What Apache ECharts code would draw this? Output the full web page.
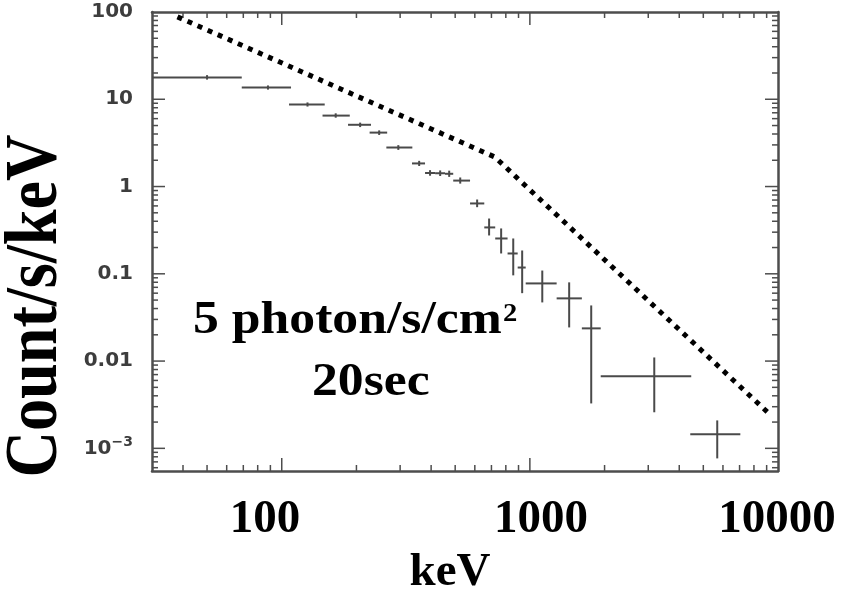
<!DOCTYPE html>
<html><head><meta charset="utf-8">
<script src="https://cdn.jsdelivr.net/npm/echarts@6/dist/echarts.min.js"></script>
<style>html,body{margin:0;padding:0;background:#fff}#c{width:841px;height:592px}</style>
</head><body><div id="c"></div>
<script>
// ---- axis ranges ----
const X_MIN = 30, X_MAX = 10000;
const Y_MIN = 5.5e-4, Y_MAX = 100;

// ---- measured spectrum (energy bins in keV, counts/s/keV) ----
const energyLow  = [30, 69, 107, 146, 185, 226, 264, 335, 378, 415, 455, 491, 574, 655, 725, 813, 893, 962, 1282, 1620, 1930, 4430];
const energyMid  = [50, 88, 127, 165, 207, 247, 295, 358, 396, 435, 473, 524, 613, 685, 766, 857, 931, 1122, 1440, 1767, 3172, 5690];
const energyHigh = [69, 109, 149, 188, 229, 266, 336, 378, 415, 455, 491, 574, 655, 725, 813, 893, 962, 1282, 1620, 1930, 4470, 7050];
const counts     = [17.8, 13.6, 8.7, 6.5, 5.1, 4.15, 2.8, 1.84, 1.43, 1.42, 1.40, 1.17, 0.64, 0.34, 0.254, 0.171, 0.118, 0.0776, 0.0523, 0.0237, 0.00668, 0.00145];
const countLow   = [16.8, 12.9, 8.25, 6.15, 4.8, 3.9, 2.63, 1.72, 1.33, 1.32, 1.29, 1.08, 0.58, 0.275, 0.171, 0.096, 0.060, 0.047, 0.0243, 0.00327, 0.00259, 0.000767];
const countHigh  = [18.9, 14.4, 9.2, 6.9, 5.4, 4.4, 2.98, 1.97, 1.54, 1.53, 1.52, 1.27, 0.71, 0.43, 0.331, 0.254, 0.185, 0.109, 0.0798, 0.0434, 0.011, 0.00209];

// ---- dotted broken power-law line ----
const modelEnergy = [38, 722, 9200];
const modelCounts = [88, 2.18, 0.0025];

// ---- ticks ----
const xMajorTicks = [100, 1000];
const xMinorTicks = [40, 50, 60, 70, 80, 90, 200, 300, 400, 500, 600, 700, 800, 900, 2000, 3000, 4000, 5000, 6000, 7000, 8000, 9000];
const yMajorTicks = [0.001, 0.01, 0.1, 1, 10];
const yMinorTicks = [6e-4, 7e-4, 8e-4, 9e-4, 0.002, 0.003, 0.004, 0.005, 0.006, 0.007, 0.008, 0.009,
  0.02, 0.03, 0.04, 0.05, 0.06, 0.07, 0.08, 0.09, 0.2, 0.3, 0.4, 0.5, 0.6, 0.7, 0.8, 0.9,
  2, 3, 4, 5, 6, 7, 8, 9, 20, 30, 40, 50, 60, 70, 80, 90];
const bigXLabels = ['100', '1000', '10000'];

const AX = '#4d4d4d';
const LBL = '#3d3d3d';
const tickData = [];
xMajorTicks.forEach(v => tickData.push([v, Y_MIN, 0, 1]));
xMinorTicks.forEach(v => tickData.push([v, Y_MIN, 0, 0]));
yMajorTicks.forEach(v => tickData.push([X_MIN, v, 1, 1]));
yMinorTicks.forEach(v => tickData.push([X_MIN, v, 1, 0]));

const errData = energyMid.map((m, i) => [energyLow[i], m, energyHigh[i], counts[i], countLow[i], countHigh[i]]);
const modelData = modelEnergy.map((e, i) => [e, modelCounts[i]]);

function renderTick(params, api) {
  const kind = api.value(2), major = api.value(3);
  const len = major ? 13 : 6;
  const st = { stroke: AX, lineWidth: 1.5 };
  if (kind === 0) {
    const v = api.value(0);
    const b = api.coord([v, Y_MIN]), t = api.coord([v, Y_MAX]);
    return { type: 'group', children: [
      { type: 'line', shape: { x1: b[0], y1: b[1], x2: b[0], y2: b[1] - len }, style: st },
      { type: 'line', shape: { x1: t[0], y1: t[1], x2: t[0], y2: t[1] + len }, style: st }
    ]};
  }
  const v = api.value(1);
  const l = api.coord([X_MIN, v]), r = api.coord([X_MAX, v]);
  return { type: 'group', children: [
    { type: 'line', shape: { x1: l[0], y1: l[1], x2: l[0] + len, y2: l[1] }, style: st },
    { type: 'line', shape: { x1: r[0], y1: r[1], x2: r[0] - len, y2: r[1] }, style: st }
  ]};
}

function renderErr(params, api) {
  const pL = api.coord([api.value(0), api.value(3)]);
  const pH = api.coord([api.value(2), api.value(3)]);
  const pB = api.coord([api.value(1), api.value(4)]);
  const pT = api.coord([api.value(1), api.value(5)]);
  const st = { stroke: '#4a4a4a', lineWidth: 2 };
  return { type: 'group', children: [
    { type: 'line', shape: { x1: pL[0], y1: pL[1], x2: pH[0], y2: pH[1] }, style: st },
    { type: 'line', shape: { x1: pB[0], y1: pB[1], x2: pT[0], y2: pT[1] }, style: st }
  ]};
}

function yLabel(v) {
  const e = Math.round(Math.log10(v));
  if (Math.abs(Math.log10(v) - e) > 1e-6 || e < -3 || e > 2) return '';
  if (e === -3) return '{b|10}{s|\u22123}';
  return String(Math.pow(10, e) >= 1 ? Math.pow(10, e) : Number(Math.pow(10, e).toFixed(-e)));
}

const serifBold = 'bold 47px "Liberation Serif", "Times New Roman", serif';

const chart = echarts.init(document.getElementById('c'), null, { renderer: 'canvas' });
chart.setOption({
  animation: false,
  backgroundColor: '#fff',
  grid: { left: 152, right: 63, top: 12, bottom: 121, containLabel: false, outerBoundsMode: 'none' },
  xAxis: [
    { type: 'log', logBase: 10, min: X_MIN, max: X_MAX, position: 'bottom',
      axisLine: { show: true, lineStyle: { color: AX, width: 2.5 } },
      axisTick: { show: false }, axisLabel: { show: false }, splitLine: { show: false }, minorTick: { show: false } },
    { type: 'log', logBase: 10, min: X_MIN, max: X_MAX, position: 'top',
      axisLine: { show: true, lineStyle: { color: AX, width: 2.5 } },
      axisTick: { show: false }, axisLabel: { show: false }, splitLine: { show: false } }
  ],
  yAxis: [
    { type: 'log', logBase: 10, min: Y_MIN, max: Y_MAX, position: 'left',
      axisLine: { show: true, lineStyle: { color: AX, width: 2.5 } },
      axisTick: { show: false }, splitLine: { show: false },
      axisLabel: { show: true, margin: 19, color: LBL, fontFamily: 'DejaVu Sans', fontWeight: 'bold', fontSize: 20,
        showMinLabel: false, formatter: yLabel,
        rich: {
          b: { fontFamily: 'DejaVu Sans', fontWeight: 'bold', fontSize: 20, color: LBL },
          s: { fontFamily: 'DejaVu Sans', fontWeight: 'bold', fontSize: 14, color: LBL, verticalAlign: 'top', padding: [0, 0, 12, 0] }
        } } },
    { type: 'log', logBase: 10, min: Y_MIN, max: Y_MAX, position: 'right',
      axisLine: { show: true, lineStyle: { color: AX, width: 2.5 } },
      axisTick: { show: false }, axisLabel: { show: false }, splitLine: { show: false } }
  ],
  series: [
    { type: 'custom', name: 'ticks', renderItem: renderTick, data: tickData, clip: false, silent: true,
      encode: { x: 0, y: 1 }, z: 3 },
    { type: 'custom', name: 'spectrum', renderItem: renderErr, data: errData, clip: true,
      encode: { x: 1, y: 3 }, z: 4 },
    { type: 'line', name: 'model', data: modelData, symbol: 'none', z: 5,
      lineStyle: { color: '#000', width: 5, type: [5, 6], cap: 'butt' } }
  ],
  graphic: [
    { type: 'text', x: 37, y: 306, rotation: Math.PI / 2, scaleX: 0.857,
      style: { text: 'Count/s/keV', font: 'bold 75px "Liberation Serif", "Times New Roman", serif', fill: '#000',
        textAlign: 'center', textVerticalAlign: 'middle', align: 'center', verticalAlign: 'middle' } },
    { type: 'text', x: 265, y: 520, style: { text: bigXLabels[0], font: serifBold, fill: '#000', textAlign: 'center', textVerticalAlign: 'middle', align: 'center', verticalAlign: 'middle' } },
    { type: 'text', x: 541, y: 520, style: { text: bigXLabels[1], font: serifBold, fill: '#000', textAlign: 'center', textVerticalAlign: 'middle', align: 'center', verticalAlign: 'middle' } },
    { type: 'text', x: 777, y: 520, style: { text: bigXLabels[2], font: serifBold, fill: '#000', textAlign: 'center', textVerticalAlign: 'middle', align: 'center', verticalAlign: 'middle' } },
    { type: 'text', x: 450, y: 573, style: { text: 'keV', font: serifBold, fill: '#000', textAlign: 'center', textVerticalAlign: 'middle', align: 'center', verticalAlign: 'middle' } },
    { type: 'text', x: 193, y: 321, scaleX: 1.1, style: { text: '5 photon/s/cm', font: serifBold, fill: '#000', textAlign: 'left', textVerticalAlign: 'middle', align: 'left', verticalAlign: 'middle' } },
    { type: 'text', x: 503, y: 314, scaleX: 1.1, style: { text: '2', font: 'bold 26px "Liberation Serif", "Times New Roman", serif', fill: '#000', textAlign: 'left', textVerticalAlign: 'middle', align: 'left', verticalAlign: 'middle' } },
    { type: 'text', x: 312, y: 383, scaleX: 1.1, style: { text: '20sec', font: serifBold, fill: '#000', textAlign: 'left', textVerticalAlign: 'middle', align: 'left', verticalAlign: 'middle' } }
  ]
});
</script></body></html>
